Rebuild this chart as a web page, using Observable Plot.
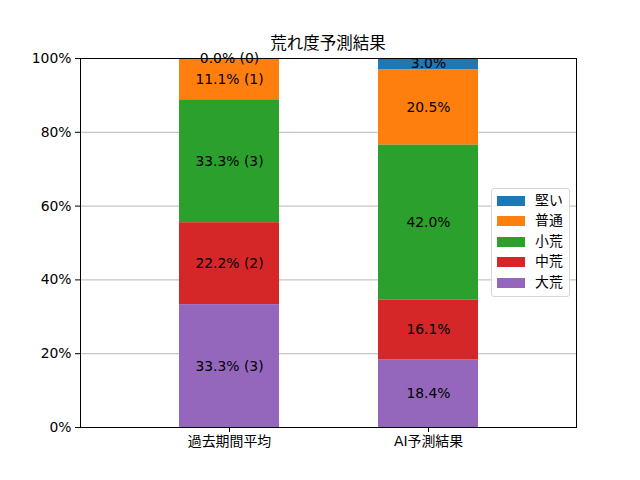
<!DOCTYPE html>
<html><head><meta charset="utf-8">
<script src="https://cdn.jsdelivr.net/npm/d3@7"></script>
<script src="https://cdn.jsdelivr.net/npm/@observablehq/plot@0.6"></script>
<style>
body{margin:0;background:#fff;font-family:"DejaVu Sans","Noto Sans CJK JP",sans-serif;}
#wrap{position:relative;width:640px;height:480px;overflow:hidden;}
#title{position:absolute;left:0;top:33px;width:640px;padding-left:16px;box-sizing:border-box;text-align:center;font-size:16.5px;line-height:22px;color:#000;}
#legend{position:absolute;left:491px;top:188px;width:79px;height:109px;box-sizing:border-box;border:1px solid #d6d6d6;border-radius:3px;background:rgba(255,255,255,0.85);}
.row{position:absolute;left:0;height:14px;width:79px;}
.sw{position:absolute;left:5px;top:2px;width:28px;height:10px;}
.lb{position:absolute;left:43px;top:-4px;font-size:13.9px;line-height:20px;color:#000;}
</style></head><body>
<div id="wrap">
<div id="chart"></div>
<div id="title">荒れ度予測結果</div>
<div id="legend"></div>
</div>
<script>
const categories = ["過去期間平均", "AI予測結果"];
const seriesNames = ["堅い", "普通", "小荒", "中荒", "大荒"];
const seriesColors = ["#1f77b4", "#ff7f0e", "#2ca02c", "#d62728", "#9467bd"];
const pastPct = [0.0, 11.1, 33.3, 22.2, 33.3];
const pastCount = [0, 1, 3, 2, 3];
const aiPct = [3.0, 20.5, 42.0, 16.1, 18.4];
const yTicks = [0, 20, 40, 60, 80, 100];

const data = [];
seriesNames.forEach((s, i) => {
  data.push({cat: categories[0], series: s, value: pastPct[i], label: `${pastPct[i].toFixed(1)}% (${pastCount[i]})`});
  data.push({cat: categories[1], series: s, value: aiPct[i], label: `${aiPct[i].toFixed(1)}%`});
});
const stackOrder = seriesNames.slice().reverse();
const font = '"DejaVu Sans","Noto Sans CJK JP",sans-serif';

const plot = Plot.plot({
  width: 640, height: 480,
  marginTop: 58, marginBottom: 53, marginLeft: 80, marginRight: 64,
  style: {fontFamily: font, fontSize: "13.9px", color: "#000", background: "white", overflow: "visible"},
  x: {domain: categories, paddingInner: 0.5, paddingOuter: 0.496, label: null},
  y: {domain: [0, 100], label: null},
  color: {domain: seriesNames, range: seriesColors},
  marks: [
    Plot.gridY(yTicks, {stroke: "#b0b0b0", strokeOpacity: 1, strokeWidth: 0.9}),
    Plot.barY(data, Plot.stackY({x: "cat", y: "value", fill: "series", order: stackOrder})),
    Plot.text(data, Plot.stackY({x: "cat", y: "value", z: "series", text: "label", order: stackOrder, fill: "black", fontSize: 13.9})),
    Plot.frame({stroke: "black", strokeWidth: 1}),
    Plot.axisY(yTicks, {tickFormat: d => d + "%", tickSize: 5, tickPadding: 4, stroke: "black", fill: "black", fontSize: 13.9, label: null}),
    Plot.axisX({tickSize: 5, tickPadding: 4, stroke: "black", fill: "black", fontSize: 13.9, label: null})
  ]
});
document.getElementById("chart").appendChild(plot);

const leg = document.getElementById("legend");
seriesNames.forEach((s, i) => {
  const row = document.createElement("div");
  row.className = "row";
  row.style.top = (5 + i * 20.4) + "px";
  const sw = document.createElement("div");
  sw.className = "sw";
  sw.style.background = seriesColors[i];
  const lb = document.createElement("div");
  lb.className = "lb";
  lb.textContent = s;
  row.appendChild(sw); row.appendChild(lb);
  leg.appendChild(row);
});
</script>
</body></html>
